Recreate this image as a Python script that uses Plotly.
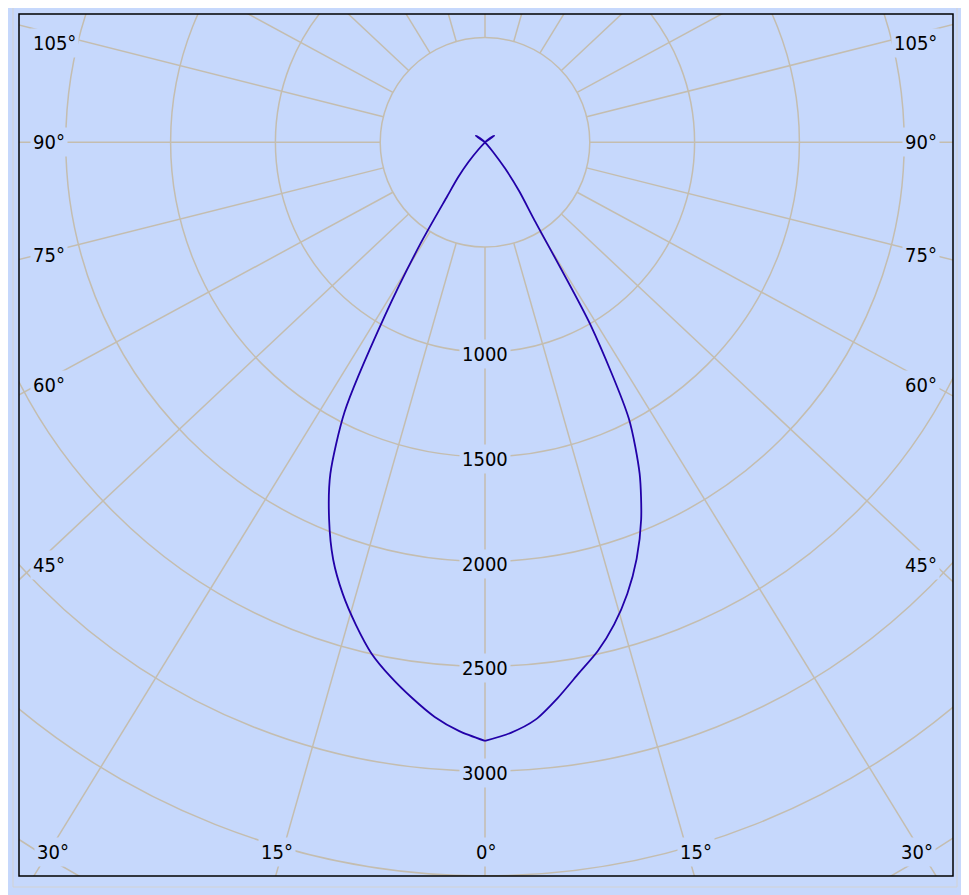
import math
import plotly.graph_objects as go

# ---------------- data ----------------
gamma_deg = [0, 2.5, 5, 7.5, 10, 12.5, 15, 17.5, 20, 22.5, 25, 27.5, 30, 32.5,
             35, 37.5, 40, 42.5, 45, 47.5, 50, 52.5, 55, 57.5, 60, 62.5, 65,
             67.5, 70, 72.5, 75, 77.5, 80, 82.5, 85, 87.5, 90]

# left half of the diagram (cd)
cd_left = [2856, 2812, 2752, 2673, 2590, 2499, 2382, 2258, 2118, 1944, 1746,
           1452, 955, 572, 314, 212, 123, 45, 0, -15, -30, -45, -54, 0,
           0, 0, 0, 0, 0, 0, 0, 0, 0, 0, 0, 0, 0]

# right half of the diagram (cd)
cd_right = [2856, 2820, 2765, 2672, 2573, 2486, 2381, 2258, 2115, 1947, 1746,
            1486, 1010, 433, 285, 158, 60, 10, 0, -15, -30, -45, -54, 0,
            0, 0, 0, 0, 0, 0, 0, 0, 0, 0, 0, 0, 0]

ring_values = [500, 1000, 1500, 2000, 2500, 3000, 3500, 4000, 4500]
radial_tick_values = [1000, 1500, 2000, 2500, 3000]
angle_grid = [0, 15, 30, 45, 60, 75, 90, 105, 120, 135, 150, 165, 180]
side_labels = ["105°", "90°", "75°", "60°", "45°"]
bottom_labels = ["30°", "15°", "0°", "15°", "30°"]

# ---------------- style / layout constants ----------------
OFF = 8                      # page offset of the figure inside the browser
SCREEN_W, SCREEN_H = 969, 895
W, H = SCREEN_W - OFF, SCREEN_H - OFF
# frame position in screen pixels
FL, FT, FR, FB = 19, 14, 953, 876
ML, MT = FL - OFF, FT - OFF
MR, MB = W - (FR - OFF), H - (FB - OFF)
PX_PER_CD = 0.2096
CX_S, CY_S = 485.0, 142.3    # pole in screen pixels
BG = "#C6D8FC"
GRID = "rgb(196,189,175)"
CURVE = "#2200A8"
FONT = 'DejaVu Sans Condensed, "Noto Sans", sans-serif'
STRETCH = 1.065  # visual direction factor of the radial grid lines

pw, ph = FR - FL, FB - FT
xr = [(FL - CX_S) / PX_PER_CD, (FR - CX_S) / PX_PER_CD]
yr = [(CY_S - FB) / PX_PER_CD, (CY_S - FT) / PX_PER_CD]


def to_xy(angles, values, side):
    xs, ys = [], []
    for a, v in zip(angles, values):
        t = math.radians(a)
        xs.append(side * v * math.sin(t))
        ys.append(-v * math.cos(t))
    return xs, ys


fig = go.Figure()
xl, yl = to_xy(gamma_deg[::-1], cd_left[::-1], -1)
xrr, yrr = to_xy(gamma_deg, cd_right, 1)
for xs, ys in ((xl, yl), (xrr, yrr)):
    fig.add_trace(go.Scatter(x=xs, y=ys, mode="lines",
                             line=dict(color=CURVE, width=1.8, shape="spline",
                                       smoothing=0.7),
                             hoverinfo="skip"))

shapes = []
for r in ring_values:
    shapes.append(dict(type="circle", xref="x", yref="y", x0=-r, y0=-r, x1=r, y1=r,
                       line=dict(color=GRID, width=1.5), layer="below"))
inner = ring_values[0]
far = 6000
for a in angle_grid:
    sides = [1] if a in (0, 180) else [-1, 1]
    for s in sides:
        t = math.radians(a)
        dx, dy = s * STRETCH * math.sin(t), -math.cos(t)
        n = math.hypot(dx, dy)
        dx, dy = dx / n, dy / n
        shapes.append(dict(type="line", xref="x", yref="y",
                           x0=inner * dx, y0=inner * dy, x1=far * dx, y1=far * dy,
                           line=dict(color=GRID, width=1.5), layer="below"))


def px_to_paper(px, py):
    return (px - FL) / pw, (FB - py) / ph


# outer faint frame and black plot frame
ox0, oy0 = px_to_paper(13, 887)
ox1, oy1 = px_to_paper(957, 6)
shapes.append(dict(type="rect", xref="paper", yref="paper",
                   x0=ox0, x1=ox1, y0=oy0, y1=oy1,
                   line=dict(color="#D2D2D2", width=1)))
shapes.append(dict(type="rect", xref="paper", yref="paper", x0=0, x1=1, y0=0, y1=1,
                   line=dict(color="black", width=1.5), layer="above"))

annotations = []
for v in radial_tick_values:
    annotations.append(dict(x=0, y=-v, xref="x", yref="y", text=str(v),
                            showarrow=False, bgcolor=BG, borderpad=2, yshift=-2,
                            font=dict(family=FONT, size=20, color="black")))

side_y = [42.5, 141.7, 255, 385.5, 565]
for lab, py in zip(side_labels, side_y):
    x0, y0 = px_to_paper(30, py)
    annotations.append(dict(x=x0, y=y0, xref="paper", yref="paper", text=lab,
                            showarrow=False, xanchor="left", yanchor="middle",
                            bgcolor=BG, borderpad=2,
                            font=dict(family=FONT, size=20, color="black")))
    x1, y1 = px_to_paper(940, py)
    annotations.append(dict(x=x1, y=y1, xref="paper", yref="paper", text=lab,
                            showarrow=False, xanchor="right", yanchor="middle",
                            bgcolor=BG, borderpad=2,
                            font=dict(family=FONT, size=20, color="black")))

bottom_x = [53, 276.5, 486, 696, 916.5]
for lab, px in zip(bottom_labels, bottom_x):
    x0, y0 = px_to_paper(px, 852)
    annotations.append(dict(x=x0, y=y0, xref="paper", yref="paper", text=lab,
                            showarrow=False, xanchor="center", yanchor="middle",
                            bgcolor=BG, borderpad=2,
                            font=dict(family=FONT, size=20, color="black")))

fig.update_layout(
    width=W, height=H,
    margin=dict(l=ML, r=MR, t=MT, b=MB),
    paper_bgcolor=BG, plot_bgcolor=BG,
    showlegend=False,
    xaxis=dict(range=xr, visible=False, fixedrange=True),
    yaxis=dict(range=yr, visible=False, fixedrange=True),
    shapes=shapes, annotations=annotations,
)

fig.write_html("out.html")
